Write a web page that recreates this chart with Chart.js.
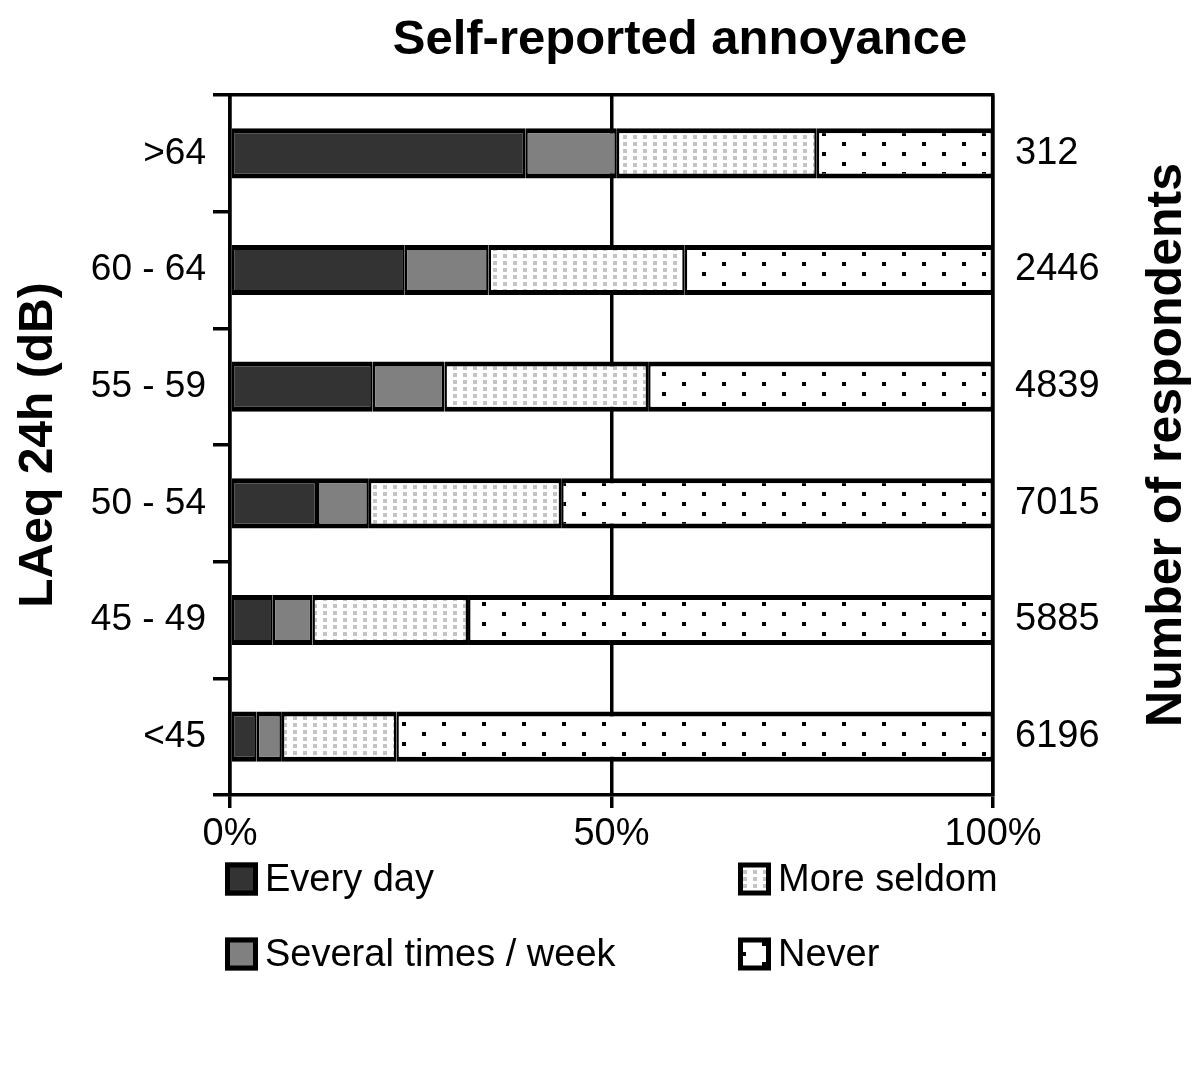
<!DOCTYPE html>
<html>
<head>
<meta charset="utf-8">
<title>Self-reported annoyance</title>
<script src="https://cdn.jsdelivr.net/npm/chart.js@4.4.1/dist/chart.umd.min.js"></script>
<style>
  html, body { margin: 0; padding: 0; background: #fff; }
  #wrap { width: 1200px; height: 1071px; }
</style>
</head>
<body>
<div id="wrap"><canvas id="annoyanceChart" width="1200" height="1071"></canvas></div>
<script>
// noise bands (LAeq 24h, dB) and number of respondents per band
const bands = [">64", "60 - 64", "55 - 59", "50 - 54", "45 - 49", "<45"];
const respondents = ["312", "2446", "4839", "7015", "5885", "6196"];

// share of respondents per answer (%)
const everyDay = [38.7, 22.9, 18.7, 11.4, 5.6, 3.5];
const severalTimes = [12.0, 11.0, 9.4, 6.8, 5.2, 3.3];
const moreSeldom = [26.2, 25.7, 26.7, 25.2, 20.4, 15.0];
const never = [23.1, 40.4, 45.2, 56.6, 68.8, 78.2];

const xTicks = [0, 50, 100];

const FONT = '"Liberation Sans", Arial, Helvetica, sans-serif';
Chart.defaults.font.family = FONT;
Chart.defaults.color = "#000";

const canvas = document.getElementById("annoyanceChart");
const ctx = canvas.getContext("2d");

// small repeating tiles for the hatched segments
function dotPattern(w, h, dots, size, color) {
  const tile = document.createElement("canvas");
  tile.width = w;
  tile.height = h;
  const g = tile.getContext("2d");
  g.fillStyle = "#fff";
  g.fillRect(0, 0, w, h);
  g.fillStyle = color;
  dots.forEach(([x, y]) => g.fillRect(x, y, size, size));
  return ctx.createPattern(tile, "repeat");
}

const seldomFill = dotPattern(10, 7, [[3, 2]], 4, "#c4c4c4");
const neverFill = dotPattern(40, 20, [[2, 2], [22, 12]], 4, "#000");

// titles that chart.js can't place/rotate the way the figure has them
const titlesPlugin = {
  id: "titles",
  afterDraw(chart) {
    const c = chart.ctx;
    c.save();
    c.fillStyle = "#000";
    c.font = "bold 49px " + FONT;
    c.textAlign = "center";
    c.textBaseline = "alphabetic";
    c.fillText("Self-reported annoyance", 680, 54);

    const area = chart.chartArea;
    c.translate(1181, (area.top + area.bottom) / 2);
    c.rotate(-Math.PI / 2);
    c.font = "bold 50px " + FONT;
    c.fillText("Number of respondents", 0, 0);
    c.restore();
  }
};

// 2 x 2 legend under the axis
const legendPlugin = {
  id: "boxLegend",
  afterDraw(chart) {
    const c = chart.ctx;
    const cols = [225, 738];
    const rows = [879, 954];
    const box = 33;
    c.save();
    chart.data.datasets.forEach((ds, i) => {
      const x = cols[Math.floor(i / 2)];
      const y = rows[i % 2] - box / 2;
      c.fillStyle = ds.backgroundColor;
      c.fillRect(x, y, box, box);
      c.lineWidth = 5;
      c.strokeStyle = "#000";
      c.strokeRect(x + 2.5, y + 2.5, box - 5, box - 5);
      c.fillStyle = "#000";
      c.font = "38px " + FONT;
      c.textAlign = "left";
      c.textBaseline = "middle";
      c.fillText(ds.label, x + box + 7, rows[i % 2] + 2);
    });
    c.restore();
  }
};

const barStyle = {
  borderColor: "#000",
  borderWidth: { top: 5, bottom: 5, left: 2.5, right: 2.5 },
  borderSkipped: false,
  barPercentage: 0.43,
  categoryPercentage: 1,
  yAxisID: "y"
};

new Chart(ctx, {
  type: "bar",
  data: {
    labels: bands,
    datasets: [
      { ...barStyle, label: "Every day", data: everyDay, backgroundColor: "#333333" },
      { ...barStyle, label: "Several times / week", data: severalTimes, backgroundColor: "#808080" },
      { ...barStyle, label: "More seldom", data: moreSeldom, backgroundColor: seldomFill },
      { ...barStyle, label: "Never", data: never, backgroundColor: neverFill }
    ]
  },
  options: {
    indexAxis: "y",
    responsive: false,
    animation: false,
    layout: { padding: { top: 95, left: 0, right: 0, bottom: 0 } },
    scales: {
      x: {
        type: "linear",
        position: "bottom",
        stacked: true,
        min: 0,
        max: 100,
        afterBuildTicks: (scale) => { scale.ticks = xTicks.map((v) => ({ value: v })); },
        afterFit: (scale) => { scale.height = 276; },
        ticks: {
          font: { size: 38 },
          padding: 4,
          callback: (v) => v + "%"
        },
        grid: { color: "#000", lineWidth: 3.5, tickLength: 13, drawOnChartArea: true },
        border: { display: true, color: "#000", width: 3.5 }
      },
      xTop: {
        type: "linear",
        position: "top",
        min: 0,
        max: 100,
        afterFit: (scale) => { scale.height = 0; },
        ticks: { display: false },
        grid: { display: false, drawTicks: false },
        border: { display: true, color: "#000", width: 3.5 }
      },
      y: {
        type: "category",
        position: "left",
        stacked: true,
        afterFit: (scale) => { scale.width = 230; },
        ticks: { font: { size: 37 }, padding: 7 },
        grid: { color: "#000", lineWidth: 3.5, tickLength: 17, drawOnChartArea: false, offset: true },
        border: { display: true, color: "#000", width: 3.5 },
        title: {
          display: true,
          text: "LAeq 24h (dB)",
          font: { size: 48, weight: "bold" },
          padding: { top: 10, bottom: 0 }
        }
      },
      yRight: {
        type: "category",
        position: "right",
        labels: respondents,
        offset: true,
        afterFit: (scale) => { scale.width = 207; },
        ticks: { font: { size: 38 }, padding: 22 },
        grid: { display: false, drawTicks: false },
        border: { display: true, color: "#000", width: 3.5 }
      }
    },
    plugins: {
      legend: { display: false },
      tooltip: { enabled: false },
      title: { display: false }
    }
  },
  plugins: [titlesPlugin, legendPlugin]
});
</script>
</body>
</html>
